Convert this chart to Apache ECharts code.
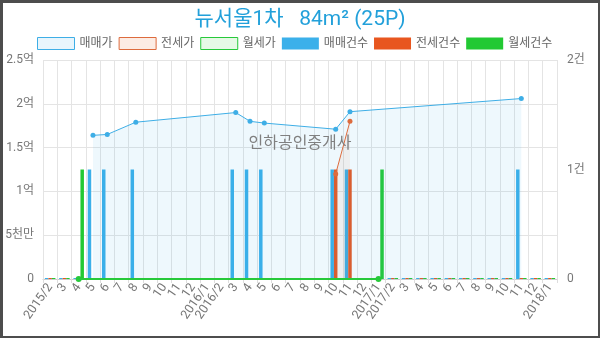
<!DOCTYPE html>
<html><head><meta charset="utf-8">
<script src="https://cdn.jsdelivr.net/npm/echarts@6/dist/echarts.min.js"></script>
<style>
html,body{margin:0;padding:0;background:#fff}
#c{width:600px;height:338px}
#f{position:absolute;left:0;top:0;width:600px;height:338px;box-sizing:border-box;border:solid #4d4d4d;border-width:3px 2px 2px 3px;pointer-events:none}
</style>
</head><body><div id="c"></div><div id="f"></div>
<script>
const titleText = '뉴서울1차   84m² (25P)';
const watermarkText = '인하공인중개사';
const seriesNames = ['매매가', '전세가', '월세가', '매매건수', '전세건수', '월세건수'];
const months = ['2015/2','3','4','5','6','7','8','9','10','11','12','2016/1','2016/2','3','4','5','6','7','8','9','10','11','12','2017/1','2017/2','3','4','5','6','7','8','9','10','11','12','2018/1'];
// prices in 만원
const salePrice   = [null,null,null,16400,16500,null,17900,null,null,null,null,null,null,19000,18000,17800,null,null,null,null,17100,19100,null,null,null,null,null,null,null,null,null,null,null,20600,null,null];
const jeonsePrice = [null,null,null,null,null,null,null,null,null,null,null,null,null,null,null,null,null,null,null,null,12000,18000,null,null,null,null,null,null,null,null,null,null,null,null,null,null];
const wolsePrice  = [null,null,0,null,null,null,null,null,null,null,null,null,null,null,null,null,null,null,null,null,null,null,null,0,null,null,null,null,null,null,null,null,null,null,null,null];
const saleCount   = [0,0,0,1,1,0,1,0,0,0,0,0,0,1,1,1,0,0,0,0,1,1,0,0,0,0,0,0,0,0,0,0,0,1,0,0];
const jeonseCount = [0,0,0,0,0,0,0,0,0,0,0,0,0,0,0,0,0,0,0,0,1,1,0,0,0,0,0,0,0,0,0,0,0,0,0,0];
const wolseCount  = [0,0,1,0,0,0,0,0,0,0,0,0,0,0,0,0,0,0,0,0,0,0,0,1,0,0,0,0,0,0,0,0,0,0,0,0];
const leftTickLabels = ['0', '5천만', '1억', '1.5억', '2억', '2.5억'];
const rightTickLabels = ['0', '1건', '2건'];

const FONT = 'Roboto, "Noto Sans CJK KR", sans-serif';
const C = {
  saleLine: '#3eaee6', saleArea: 'rgba(56,176,232,0.12)', saleLegFill: '#e8f5fc',
  jeonLine: '#dd6b3d', jeonArea: 'rgba(224,112,62,0.10)', jeonLegFill: '#fcece4',
  wolLine: '#27c93a', wolLegFill: '#e6f9e6',
  saleBar: '#3bb0ea', jeonBar: '#e8561f', wolBar: '#22c933'
};

const chart = echarts.init(document.getElementById('c'), null, {renderer: 'canvas'});
chart.setOption({
  animation: false,
  textStyle: {fontFamily: FONT},
  title: {
    text: titleText, left: 'center', top: 4,
    textStyle: {color: '#22a0da', fontSize: 21, fontWeight: 'normal', fontFamily: FONT}
  },
  legend: {
    top: 37, left: 37, padding: 0, itemWidth: 37, itemHeight: 12, itemGap: 6,
    textStyle: {fontSize: 12, color: '#666', fontFamily: FONT},
    data: [
      {name: seriesNames[0], icon: 'rect', itemStyle: {color: C.saleLegFill, borderColor: C.saleLine, borderWidth: 1}},
      {name: seriesNames[1], icon: 'rect', itemStyle: {color: C.jeonLegFill, borderColor: C.jeonLine, borderWidth: 1}},
      {name: seriesNames[2], icon: 'rect', itemStyle: {color: C.wolLegFill, borderColor: C.wolLine, borderWidth: 1}},
      {name: seriesNames[3], icon: 'rect', itemStyle: {color: C.saleBar}},
      {name: seriesNames[4], icon: 'rect', itemStyle: {color: C.jeonBar}},
      {name: seriesNames[5], icon: 'rect', itemStyle: {color: C.wolBar}}
    ]
  },
  grid: {left: 43, right: 43, top: 60, bottom: 59, containLabel: false},
  graphic: [{
    type: 'text', left: 'center', top: 136, z: 100,
    style: {text: watermarkText, fill: '#808080', fontSize: 16, fontFamily: FONT}
  }],
  xAxis: {
    type: 'category', data: months, boundaryGap: true,
    axisLine: {lineStyle: {color: '#ccc'}},
    axisTick: {show: true, length: 4, lineStyle: {color: '#ddd'}},
    axisLabel: {rotate: 55, interval: 0, fontSize: 12.5, color: '#777', margin: 6, fontFamily: FONT},
    splitLine: {show: true, lineStyle: {color: '#e4e4e4'}}
  },
  yAxis: [{
    type: 'value', min: 0, max: 25000, interval: 5000,
    axisLine: {show: false}, axisTick: {show: false},
    axisLabel: {fontSize: 12, color: '#777', margin: 9, fontFamily: FONT,
      formatter: v => leftTickLabels[Math.round(v / 5000)]},
    splitLine: {show: true, lineStyle: {color: '#e4e4e4'}}
  }, {
    type: 'value', min: 0, max: 2, interval: 1, position: 'right',
    axisLine: {show: false}, axisTick: {show: false},
    axisLabel: {fontSize: 12, color: '#777', margin: 10, fontFamily: FONT,
      formatter: v => rightTickLabels[Math.round(v)]},
    splitLine: {show: false}
  }],
  series: [
    {name: seriesNames[3], type: 'bar', yAxisIndex: 1, data: saleCount, barWidth: 3.5, barGap: '0%', barMinHeight: 1, itemStyle: {color: C.saleBar}},
    {name: seriesNames[4], type: 'bar', yAxisIndex: 1, data: jeonseCount, barWidth: 3.5, barGap: '0%', barMinHeight: 1, itemStyle: {color: C.jeonBar}},
    {name: seriesNames[5], type: 'bar', yAxisIndex: 1, data: wolseCount, barWidth: 3.5, barGap: '0%', barMinHeight: 1, itemStyle: {color: C.wolBar}},
    {name: seriesNames[0], type: 'line', data: salePrice, connectNulls: true, symbol: 'circle', symbolSize: 5,
      lineStyle: {width: 1, color: C.saleLine}, itemStyle: {color: C.saleLine}, areaStyle: {color: C.saleArea}},
    {name: seriesNames[1], type: 'line', data: jeonsePrice, connectNulls: true, symbol: 'circle', symbolSize: 5,
      lineStyle: {width: 1, color: C.jeonLine}, itemStyle: {color: C.jeonLine}, areaStyle: {color: C.jeonArea}},
    {name: seriesNames[2], type: 'line', data: wolsePrice, connectNulls: true, symbol: 'circle', symbolSize: 6,
      lineStyle: {width: 2, color: C.wolLine}, itemStyle: {color: C.wolLine}, areaStyle: {color: 'rgba(39,201,58,0.1)'}}
  ]
});
</script>
</body></html>
